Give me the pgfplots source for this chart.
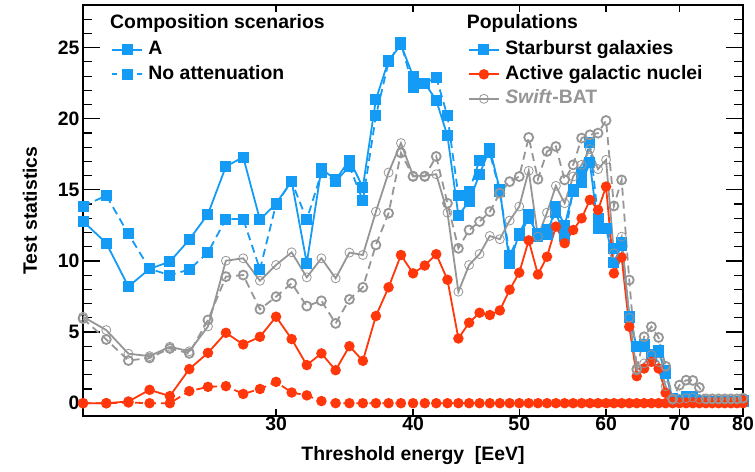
\documentclass[border=0pt]{standalone}
\usepackage{fontspec}
\setmainfont{Liberation Sans}
\usepackage{pgfplots}
\usepackage{pgfplotstable}
\pgfplotsset{compat=1.18}

\definecolor{sbg}{RGB}{20,155,245}
\definecolor{agn}{RGB}{255,55,10}
\definecolor{bat}{RGB}{150,150,150}
\newcommand\chartfont{\fontsize{19.4bp}{23bp}\selectfont\bfseries}

% Test statistic vs. threshold energy
% sbg = starburst galaxies, agn = active galactic nuclei, bat = Swift-BAT
% suffix A = composition scenario A, N = no attenuation
\pgfplotstableread{
E  sbgA  sbgN  agnA  agnN  batA  batN
20 12.80 13.85 0.00 0.00  6.08  5.95
21 11.25 14.60 0.00 0.00  5.14  4.48
22  8.20 11.90 0.12 0.05  3.48  3.00
23  9.45  9.45 0.94 0.00  3.31  3.18
24  9.95  9.00 0.50 0.00  3.97  3.85
25 11.50  9.40 2.40 0.85  3.65  3.50
26 13.30 10.60 3.54 1.15  5.40  5.85
27 16.65 12.95 4.95 1.20 10.02  8.90
28 17.30 12.95 4.13 0.65 10.19  9.01
29 12.90  9.40 4.67 1.00  8.61  6.60
30 14.05 14.00 6.08 1.50  9.72  7.49
31 15.60 15.60 4.51 0.75 10.61  8.43
32  9.85 12.90 2.68 0.55  8.85  6.83
33 16.50 16.20 3.50 0.15 10.19  7.20
34 15.70 15.60 2.32 0.00  8.78  5.61
35 17.10 16.65 4.01 0.00 10.59  7.30
36 15.20 14.25 2.98 0.00 10.42  8.15
37 21.35 20.20 6.13 0.00 13.47 11.13
38 24.10 24.00 8.15 0.00 16.22 13.36
39 25.20 25.35 10.42 0.00 18.29 17.60
40 23.00 22.20 9.13 0.00 16.00 15.94
41 22.50 22.50 9.68 0.00 16.00 15.94
42 21.30 22.90 10.48 0.00 16.10 17.35
43 18.80 20.20 8.68 0.00 13.40 14.06
44 13.20 14.60 4.55 0.00  7.84 10.89
45 14.20 14.90 5.66 0.00  9.72 12.18
46 16.10 17.10 6.36 0.00 10.49 12.77
47 17.90 17.60 6.20 0.00 11.76 13.47
48 15.00 14.90 6.52 0.00 11.53 14.77
49  9.85 10.40 7.98 0.00 12.84 15.58
50 11.95 11.80 9.18 0.00 13.83 15.94
51 13.25 13.00 11.45 0.00 16.34 18.69
52 11.70 11.90 9.05 0.00 11.71 15.75
53 11.85 12.20 10.30 0.00 13.40 17.70
54 13.80 13.40 12.42 0.00 15.28 18.05
55 12.50 11.70 11.25 0.00 14.06 15.70
56 14.90 15.00 12.18 0.00 15.94 16.76
57 15.50 16.20 13.00 0.00 16.76 18.64
58 16.90 18.30 14.30 0.00 17.87 18.87
59 12.30 13.00 13.59 0.00 16.46 18.99
60 12.30 12.30 15.23 0.00 17.11 19.88
61  9.90 10.90 9.13 0.00 10.54 13.87
62 11.10 11.30 10.25 0.00 11.71 15.70
63  6.00  6.10 5.38 0.00  6.00  8.66
64  4.00  4.00 1.90 0.00  2.30  2.40
65  4.10  4.00 2.44 0.00  2.80  4.67
66  3.30  3.40 2.91 0.00  3.40  5.38
67  3.60  3.70 2.44 0.00  2.90  4.62
68  2.30  2.10 0.73 0.00  1.20  2.60
69  0.25  0.30 0.10 0.00  0.25  0.30
70  0.20  0.20 0.05 0.00  0.30  1.27
71  0.45  0.40 0.05 0.00  0.35  1.62
72  0.45  0.35 0.05 0.00  0.40  1.60
73  0.15  0.20 0.05 0.00  0.30  1.10
74  0.10  0.15 0.05 0.00  0.30  0.30
75  0.10  0.15 0.05 0.00  0.30  0.30
76  0.10  0.15 0.05 0.00  0.30  0.30
77  0.10  0.15 0.05 0.00  0.30  0.30
78  0.10  0.15 0.05 0.00  0.30  0.30
79  0.10  0.15 0.05 0.00  0.30  0.30
80  0.20  0.15 0.20 0.00  0.35  0.35
}\tsdata

\pgfplotsset{
  samplelegend/.style={
    legend image code/.code={
      \draw[mark repeat=2,mark phase=2,##1] plot coordinates {(0bp,0bp) (15bp,0bp) (30bp,0bp)};
    },
    legend cell align=left,
    legend style={draw=none, fill=none, inner sep=0pt, anchor=north west,
      font=\chartfont, column sep=3.5bp, row sep=1bp,
      nodes={inner sep=2bp, text height=14.6bp, text depth=4.9bp}},
  },
  sbgstyle/.style={sbg, line width=1.8bp, mark=square*, mark size=4.6bp},
  agnstyle/.style={agn, line width=1.8bp, mark=*, mark size=4.3bp},
  batstyle/.style={bat, line width=1.8bp, mark=o, mark size=4.5bp,
    mark options={solid, line width=0.8bp}},
  dashedline/.style={dash pattern=on 8bp off 5bp, mark options={solid}},
}

\begin{document}
\begin{tikzpicture}
\useasboundingbox (0,0) rectangle (755bp,472bp);
\begin{axis}[
  at={(83bp,56bp)}, anchor=south west,
  scale only axis, width=660bp, height=411bp,
  xmode=log, xmin=20, xmax=80, ymin=-0.9, ymax=28,
  xtick={30,40,50,60,70,80}, xticklabels={30,40,50,60,70,80},
  minor xtick={},
  ytick={0,5,10,15,20,25}, minor ytick={0,1,...,27},
  tick align=inside, xtick pos=both, ytick pos=both,
  xtick style={/pgfplots/major tick length=7bp},
  ytick style={/pgfplots/major tick length=17bp, /pgfplots/minor tick length=9bp},
  tick style={black, line width=1.2bp},
  axis line style={black, line width=1.6bp},
  /pgf/number format/assume math mode=true,
  tick label style={font=\chartfont},
  xticklabel style={yshift=3bp},
  xlabel={Threshold energy~~[EeV]}, ylabel={Test statistics},
  every axis x label/.style={at={(axis description cs:0.5,0)}, yshift=-40bp, anchor=center, font=\chartfont},
  every axis y label/.style={at={(axis description cs:0,0.5)}, xshift=-53bp, anchor=center, rotate=90, font=\chartfont},
  clip=false,
  samplelegend,
  legend style={at={(axis description cs:0.583,0.920)}},
]
\addplot[forget plot, sbgstyle, dashedline] table[x=E, y=sbgN] {\tsdata};
\addplot[forget plot, sbgstyle] table[x=E, y=sbgA] {\tsdata};
\addplot[forget plot, agnstyle, dashedline] table[x=E, y=agnN] {\tsdata};
\addplot[forget plot, agnstyle] table[x=E, y=agnA] {\tsdata};
\addplot[forget plot, batstyle, dashedline] table[x=E, y=batN] {\tsdata};
\addplot[forget plot, batstyle] table[x=E, y=batA] {\tsdata};

\addlegendimage{sbgstyle}
\addlegendentry{Starburst galaxies}
\addlegendimage{agnstyle}
\addlegendentry{Active galactic nuclei}
\addlegendimage{batstyle}
\addlegendentry{\textcolor{bat}{\textit{Swift}-BAT}}

\node[anchor=base west, font=\chartfont, inner sep=0pt] at (axis description cs:0.0409,0.9416) {Composition scenarios};
\node[anchor=base west, font=\chartfont, inner sep=0pt] at (axis description cs:0.5814,0.9416) {Populations};
\end{axis}

% second, hidden axis carrying the composition-scenario legend
\begin{axis}[
  at={(83bp,56bp)}, anchor=south west,
  scale only axis, width=660bp, height=411bp,
  hide axis, xmin=0, xmax=1, ymin=0, ymax=1,
  samplelegend,
  legend style={at={(axis description cs:0.0424,0.920)}},
]
\addlegendimage{sbgstyle}
\addlegendentry{A}
\addlegendimage{sbgstyle, dash pattern=on 5bp off 20bp on 5bp off 0bp, mark options={solid}}
\addlegendentry{No attenuation}
\end{axis}
\end{tikzpicture}
\end{document}
